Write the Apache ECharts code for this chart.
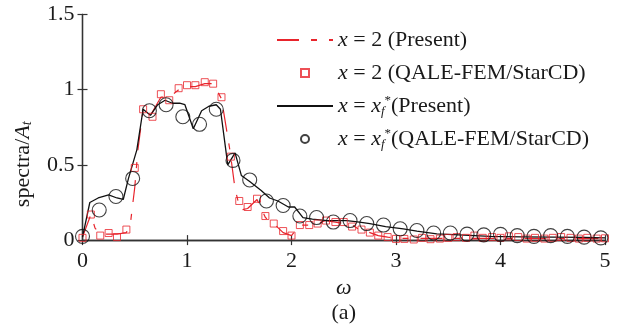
<!DOCTYPE html>
<html>
<head>
<meta charset="utf-8">
<script src="https://cdn.jsdelivr.net/npm/echarts@6/dist/echarts.min.js"></script>
<style>
  html, body { margin: 0; padding: 0; background: #fff; }
  #chart { width: 622px; height: 329px; }
</style>
</head>
<body>
<div id="chart"></div>
<script>
// x = 2, present model (dashed red line)
const redLineW = [0, 0.08, 0.12, 0.17, 0.25, 0.33, 0.42, 0.46, 0.5, 0.53, 0.58, 0.65, 0.75, 0.83, 0.92, 1.0, 1.08, 1.17, 1.25, 1.33, 1.41, 1.46, 1.51, 1.58, 1.67, 1.75, 1.83, 1.92, 2.0, 2.08, 2.17, 2.25, 2.33, 2.42, 2.5, 2.58, 2.67, 2.75, 2.83, 2.92, 3.0, 3.5, 4.0, 4.5, 5.0];
const redLineV = [0.02, 0.17, 0.08, 0.04, 0.04, 0.04, 0.05, 0.12, 0.35, 0.6, 0.87, 0.83, 0.95, 0.95, 1.0, 1.02, 1.02, 1.04, 1.04, 0.94, 0.6, 0.34, 0.2, 0.21, 0.27, 0.15, 0.11, 0.05, 0.03, 0.1, 0.1, 0.11, 0.13, 0.12, 0.11, 0.1, 0.06, 0.05, 0.03, 0.02, 0.012, 0.012, 0.012, 0.01, 0.01];

// x = 2, QALE-FEM/StarCD (red squares), step 1/12
const redSqW = [0, 0.08, 0.17, 0.25, 0.33, 0.42, 0.5, 0.58, 0.67, 0.75, 0.83, 0.92, 1.0, 1.08, 1.17, 1.25, 1.33, 1.42, 1.5, 1.58, 1.67, 1.75, 1.83, 1.92, 2.0, 2.08, 2.17, 2.25, 2.33, 2.42, 2.5, 2.58, 2.67, 2.75, 2.83, 2.92, 3.0, 3.08, 3.17, 3.25, 3.33, 3.42, 3.5, 3.58, 3.67, 3.75, 3.83, 3.92, 4.0, 4.08, 4.17, 4.25, 4.33, 4.42, 4.5, 4.58, 4.67, 4.75, 4.83, 4.92, 5.0];
const redSqV = [0.015, 0.17, 0.03, 0.047, 0.02, 0.07, 0.48, 0.87, 0.82, 0.97, 0.93, 1.01, 1.03, 1.03, 1.05, 1.04, 0.95, 0.555, 0.26, 0.22, 0.275, 0.16, 0.11, 0.06, 0.03, 0.1, 0.1, 0.11, 0.13, 0.12, 0.12, 0.09, 0.07, 0.05, 0.03, 0.02, 0.008, 0.008, 0.004, 0.015, 0.006, 0.01, 0.015, 0.02, 0.015, 0.03, 0.015, 0.02, 0.015, 0.025, 0.02, 0.01, 0.015, 0.01, 0.015, 0.02, 0.015, 0.01, 0.015, 0.01, 0.012];

// x = xf*, present model (solid black line)
const blackLineW = [0, 0.07, 0.15, 0.25, 0.33, 0.39, 0.44, 0.52, 0.58, 0.65, 0.72, 0.79, 0.86, 0.93, 0.98, 1.06, 1.14, 1.21, 1.28, 1.32, 1.39, 1.46, 1.52, 1.6, 1.71, 1.79, 1.87, 1.97, 2.03, 2.11, 2.2, 2.34, 2.45, 2.53, 2.65, 2.75, 2.9, 3.07, 3.2, 3.39, 3.6, 3.9, 4.2, 4.5, 4.8, 5.0];
const blackLineV = [0.02, 0.25, 0.28, 0.3, 0.28, 0.27, 0.41, 0.6, 0.87, 0.83, 0.9, 0.93, 0.91, 0.91, 0.9, 0.74, 0.86, 0.89, 0.9, 0.87, 0.5, 0.58, 0.43, 0.39, 0.33, 0.28, 0.26, 0.22, 0.22, 0.15, 0.14, 0.13, 0.13, 0.13, 0.12, 0.11, 0.09, 0.075, 0.06, 0.042, 0.035, 0.025, 0.022, 0.02, 0.018, 0.015];

// x = xf*, QALE-FEM/StarCD (black circles)
const blackCirW = [0, 0.16, 0.32, 0.48, 0.64, 0.8, 0.96, 1.12, 1.28, 1.44, 1.6, 1.76, 1.92, 2.08, 2.24, 2.4, 2.56, 2.72, 2.88, 3.04, 3.2, 3.36, 3.52, 3.68, 3.84, 4.0, 4.16, 4.32, 4.48, 4.64, 4.8, 4.96];
const blackCirV = [0.025, 0.2, 0.29, 0.41, 0.86, 0.9, 0.82, 0.77, 0.87, 0.53, 0.4, 0.26, 0.23, 0.16, 0.15, 0.12, 0.13, 0.11, 0.1, 0.075, 0.064, 0.047, 0.047, 0.04, 0.035, 0.038, 0.03, 0.025, 0.03, 0.025, 0.02, 0.015];

const xTicks = [0, 5, 1];     // min, max, interval
const yTicks = [0, 1.5, 0.5];

const RED = '#e8242c';
const AXIS = '#333';
const INK = '#1a1a1a';
const FONT = 'Liberation Serif';
const FS = 22;

const zip = (a, b) => a.map((w, i) => [w, b[i]]);

const legendText = {
  redLine: '{i|x} = 2 (Present)',
  redSq: '{i|x} = 2 (QALE-FEM/StarCD)',
  blackLine: '{i|x} = {i|x}{sub|f}{sup|*}(Present)',
  blackCir: '{i|x} = {i|x}{sub|f}{sup|*}(QALE-FEM/StarCD)'
};

const richParts = {
  i: { fontStyle: 'italic', fontFamily: FONT, fontSize: FS, lineHeight: 24, color: INK },
  sub: { fontStyle: 'italic', fontFamily: FONT, fontSize: 13, lineHeight: 12, verticalAlign: 'bottom', color: INK },
  sup: { fontFamily: FONT, fontSize: 13, lineHeight: 12, verticalAlign: 'top', color: INK }
};

// mirrored axis on the top / right to close the box
const boxAxis = (pos, range) => ({
  type: 'value',
  position: pos,
  min: range[0],
  max: range[1],
  interval: range[2],
  axisLine: { show: true, lineStyle: { color: AXIS, width: 1.3 } },
  axisTick: { show: true, inside: true, length: 5, lineStyle: { color: AXIS, width: 1.2 } },
  axisLabel: { show: false },
  splitLine: { show: false }
});

const hidden = { color: 'rgba(0,0,0,0)', borderWidth: 0 };

const chart = echarts.init(document.getElementById('chart'));

chart.setOption({
  animation: false,
  backgroundColor: '#fff',
  grid: { left: 82.5, right: 17, top: 14.5, bottom: 82.5 },
  legend: {
    orient: 'vertical',
    left: 276,
    top: 28,
    padding: 0,
    itemGap: 9,
    itemWidth: 56,
    itemHeight: 8,
    data: [
      { name: 'redLine', itemStyle: hidden },
      { name: 'redSq', icon: 'path://M0,0L10,0L10,10L0,10Z' },
      { name: 'blackLine', itemStyle: hidden },
      { name: 'blackCir', icon: 'circle' }
    ],
    formatter: name => legendText[name],
    textStyle: {
      fontFamily: FONT,
      fontSize: FS,
      lineHeight: 24,
      color: INK,
      rich: richParts
    }
  },
  xAxis: [
    {
      type: 'value',
      position: 'bottom',
      min: xTicks[0],
      max: xTicks[1],
      interval: xTicks[2],
      axisLine: { show: true, lineStyle: { color: AXIS, width: 1.3 } },
      axisTick: { show: true, inside: true, length: 5, lineStyle: { color: AXIS, width: 1.2 } },
      axisLabel: { fontFamily: FONT, fontSize: FS, color: INK, margin: 10 },
      splitLine: { show: false },
      name: '{w|ω}\n{a|(a)}',
      nameLocation: 'middle',
      nameGap: 21,
      nameTextStyle: {
        rich: {
          w: { fontFamily: FONT, fontStyle: 'italic', fontSize: FS, lineHeight: 25, color: INK },
          a: { fontFamily: FONT, fontSize: FS, lineHeight: 25, color: INK }
        }
      }
    },
    boxAxis('top', xTicks)
  ],
  yAxis: [
    {
      type: 'value',
      position: 'left',
      min: yTicks[0],
      max: yTicks[1],
      interval: yTicks[2],
      axisLine: { show: true, lineStyle: { color: AXIS, width: 1.3 } },
      axisTick: { show: true, inside: true, length: 5, lineStyle: { color: AXIS, width: 1.2 } },
      axisLabel: { fontFamily: FONT, fontSize: FS, color: INK, margin: 8 },
      splitLine: { show: false },
      name: 'spectra/{i|A}{sub|t}',
      nameLocation: 'middle',
      nameRotate: 90,
      nameGap: 48,
      nameTextStyle: {
        fontFamily: FONT,
        fontSize: FS,
        color: INK,
        padding: [0, 74, 0, 0],
        rich: {
          i: { fontStyle: 'italic', fontFamily: FONT, fontSize: FS, color: INK },
          sub: { fontStyle: 'italic', fontFamily: FONT, fontSize: 14, lineHeight: 12, verticalAlign: 'bottom', color: INK }
        }
      }
    },
    boxAxis('right', yTicks)
  ],
  series: [
    {
      name: 'redLine',
      type: 'line',
      data: zip(redLineW, redLineV),
      symbol: 'none',
      lineStyle: { color: RED, width: 1.2, type: [22, 12, 6, 12] },
      itemStyle: { color: RED },
      z: 2
    },
    {
      name: 'blackLine',
      type: 'line',
      data: zip(blackLineW, blackLineV),
      symbol: 'none',
      lineStyle: { color: '#111', width: 1.3 },
      itemStyle: { color: '#111' },
      z: 3
    },
    {
      name: 'redSq',
      type: 'scatter',
      data: zip(redSqW, redSqV),
      symbol: 'rect',
      symbolSize: 7,
      itemStyle: { color: 'rgba(255,255,255,0)', borderColor: RED, borderWidth: 1 },
      z: 4
    },
    {
      name: 'blackCir',
      type: 'scatter',
      data: zip(blackCirW, blackCirV),
      symbol: 'circle',
      symbolSize: 14,
      itemStyle: { color: 'rgba(255,255,255,0)', borderColor: '#111', borderWidth: 1.1 },
      z: 5
    }
  ]
});
</script>
</body>
</html>
